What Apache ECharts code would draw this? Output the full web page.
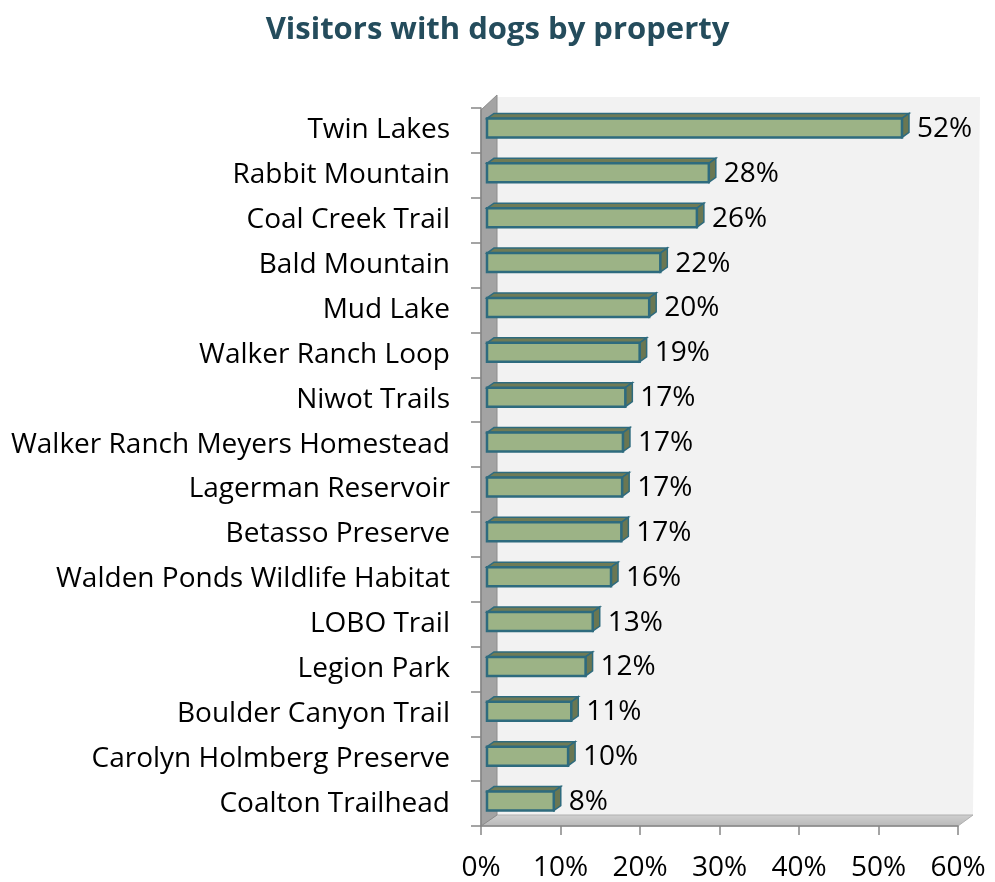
<!DOCTYPE html>
<html>
<head>
<meta charset="utf-8">
<script src="https://cdn.jsdelivr.net/npm/echarts@6/dist/echarts.min.js"></script>
<style>
html,body{margin:0;padding:0;background:#fff;}
#main{width:995px;height:882px;}
</style>
</head>
<body>
<div id="main"></div>
<script>
const titleText = 'Visitors with dogs by property';
const categories = ['Twin Lakes', 'Rabbit Mountain', 'Coal Creek Trail', 'Bald Mountain', 'Mud Lake',
  'Walker Ranch Loop', 'Niwot Trails', 'Walker Ranch Meyers Homestead', 'Lagerman Reservoir',
  'Betasso Preserve', 'Walden Ponds Wildlife Habitat', 'LOBO Trail', 'Legion Park',
  'Boulder Canyon Trail', 'Carolyn Holmberg Preserve', 'Coalton Trailhead'];
const values = [52.2, 27.9, 26.4, 21.8, 20.4, 19.2, 17.4, 17.1, 17.0, 16.9, 15.6, 13.3, 12.4, 10.6, 10.2, 8.4];
const xTicks = { min: 0, max: 60, interval: 10 };

const FONT = 'Open Sans';
const chart = echarts.init(document.getElementById('main'));

function renderWalls(params, api) {
  const cs = params.coordSys;
  const L = cs.x, R = cs.x + cs.width, T = cs.y, B = cs.y + cs.height;
  const dx = 16, dy = -11;
  return {
    type: 'group',
    children: [
      { type: 'polygon', shape: { points: [[L + dx, T + dy], [R + dx + 6, T + dy], [R + dx - 1, B + dy], [L + dx, B + dy]] },
        style: { fill: '#f2f2f2', stroke: null } },
      { type: 'polygon', shape: { points: [[L, B], [L + dx, B + dy], [R + dx - 1, B + dy], [R, B]] },
        style: { fill: new echarts.graphic.LinearGradient(0, 0, 0, 1, [{ offset: 0, color: '#d0d0d0' }, { offset: 1, color: '#b8b8b8' }]), stroke: '#b0b0b0', lineWidth: 1 } },
      { type: 'polygon', shape: { points: [[L, T + 2], [L + dx, T + dy - 2], [L + dx, B + dy], [L, B]] },
        style: { fill: '#a3a3a3', stroke: '#8c8c8c', lineWidth: 1 } }
    ]
  };
}

function renderBar(params, api) {
  const v = api.value(0), ci = api.value(1);
  const p0 = api.coord([0, ci]);
  const p1 = api.coord([v, ci]);
  const ox = 6, dx = 7, dy = -5;
  const c = p0[1];
  const fy0 = c - 12, fy1 = c + 7;
  const x0 = p0[0] + ox, x1 = p1[0] + ox;
  const border = '#2e6b7e';
  return {
    type: 'group',
    children: [
      { type: 'polygon', shape: { points: [[x0, fy0], [x0 + dx, fy0 + dy], [x1 + dx, fy0 + dy], [x1, fy0]] },
        style: { fill: '#6f7b56', stroke: border, lineWidth: 1.5 } },
      { type: 'polygon', shape: { points: [[x1, fy0], [x1 + dx, fy0 + dy], [x1 + dx, fy1 + dy], [x1, fy1]] },
        style: { fill: '#6a7752', stroke: border, lineWidth: 1.5 } },
      { type: 'rect', shape: { x: x0, y: fy0, width: x1 - x0, height: fy1 - fy0 },
        style: { fill: '#9cb386', stroke: border, lineWidth: 2.5 } },
      { type: 'text', x: x1 + dx + 8, y: (fy0 + fy1) / 2 + 1,
        style: { text: Math.round(v) + '%', fill: '#000', font: '28px "' + FONT + '"', textAlign: 'left', textVerticalAlign: 'middle' } }
    ]
  };
}

chart.setOption({
  backgroundColor: '#ffffff',
  animation: false,
  title: {
    text: titleText, left: 'center', top: 10,
    textStyle: { fontFamily: FONT, fontWeight: 'bold', fontSize: 31, color: '#244c5c' }
  },
  grid: { left: 481, right: 37, top: 108, bottom: 56, containLabel: false },
  xAxis: {
    type: 'value', min: xTicks.min, max: xTicks.max, interval: xTicks.interval,
    axisLine: { show: true, lineStyle: { color: '#868686', width: 1.5 } },
    axisTick: { show: true, length: 9, lineStyle: { color: '#868686', width: 1.5 } },
    splitLine: { show: false },
    axisLabel: { formatter: '{value}%', fontFamily: FONT, fontSize: 28, color: '#000', margin: 28 }
  },
  yAxis: {
    type: 'category', data: categories, inverse: true,
    axisLine: { show: true, lineStyle: { color: '#868686', width: 1.5 } },
    axisTick: { show: true, length: 10, lineStyle: { color: '#868686', width: 1.5 } },
    axisLabel: { fontFamily: FONT, fontSize: 28, color: '#000', margin: 31 }
  },
  series: [
    { type: 'custom', z: -1, silent: true, clip: false, renderItem: renderWalls, data: [[0, 0]], encode: { x: 0, y: 1 } },
    { type: 'custom', z: 3, clip: false, renderItem: renderBar,
      data: values.map((v, i) => [v, i]), encode: { x: 0, y: 1 } }
  ]
});
</script>
</body>
</html>
